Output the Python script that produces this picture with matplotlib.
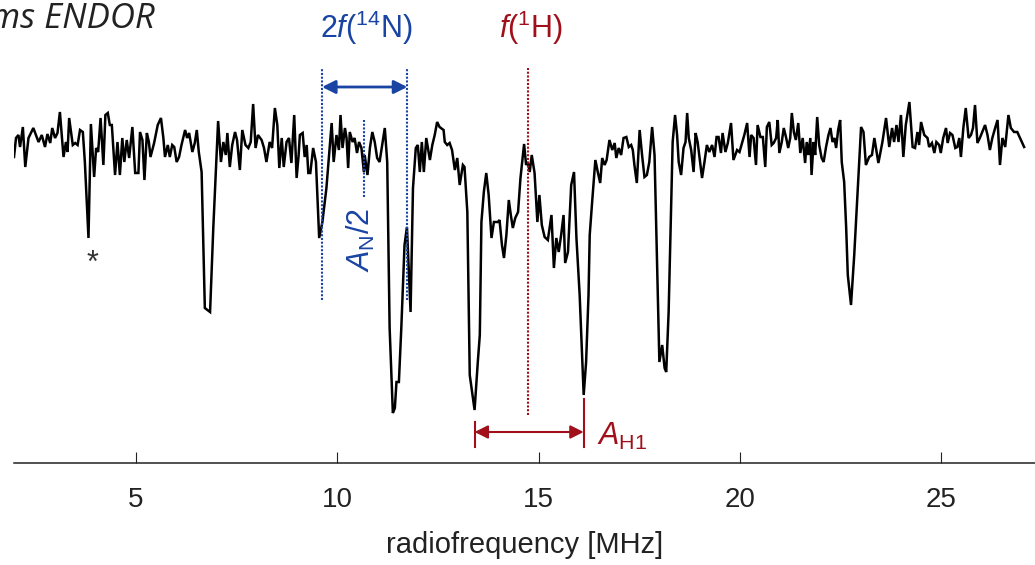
import matplotlib
matplotlib.use("Agg")
import matplotlib.pyplot as plt

# ---------------- data ----------------
freq = [
    # 2 - 5.5 MHz
    1.97, 2.02, 2.08, 2.12, 2.19, 2.25, 2.33, 2.45, 2.58, 2.66, 2.74, 2.80, 2.87, 2.92, 2.99, 3.05, 3.11, 3.20, 3.26, 3.30,
    3.34, 3.43, 3.49, 3.55, 3.61, 3.68, 3.73, 3.82, 3.88, 3.96, 4.01, 4.06, 4.12, 4.19, 4.24, 4.30, 4.35, 4.40, 4.48, 4.54,
    4.60, 4.66, 4.71, 4.77, 4.83, 4.91, 4.98, 5.06, 5.10, 5.16, 5.21, 5.27, 5.32, 5.36, 5.45,
    # 5.5 - 9 MHz
    5.54, 5.62, 5.68, 5.72, 5.79, 5.84, 5.90, 5.95, 6.01, 6.07, 6.13, 6.22, 6.27, 6.32, 6.40, 6.46, 6.51, 6.56, 6.63, 6.71,
    6.84, 6.92, 7.04, 7.11, 7.17, 7.23, 7.27, 7.33, 7.39, 7.46, 7.51, 7.58, 7.64, 7.72, 7.79, 7.85, 7.91, 7.97, 8.03, 8.12,
    8.18, 8.24, 8.32, 8.38, 8.45, 8.51, 8.56, 8.62, 8.67, 8.74, 8.80, 8.86, 8.93, 8.99, 9.04,
    # 9 - 12.6 MHz
    9.07, 9.14, 9.19, 9.24, 9.28, 9.33, 9.40, 9.47, 9.55, 9.63, 9.73, 9.86, 9.91, 9.98, 10.04, 10.08, 10.13, 10.19, 10.23, 10.27,
    10.31, 10.38, 10.43, 10.49, 10.54, 10.60, 10.66, 10.68, 10.75, 10.81, 10.87, 10.93, 10.99, 11.05, 11.14, 11.18, 11.24, 11.30, 11.38, 11.43,
    11.47, 11.53, 11.59, 11.67, 11.73, 11.82, 11.88, 11.95, 12.00, 12.05, 12.10, 12.15, 12.21, 12.30, 12.36, 12.42, 12.48, 12.54, 12.64,
    # 12.6 - 16.2 MHz
    12.67, 12.73, 12.79, 12.85, 12.92, 12.98, 13.04, 13.12, 13.16, 13.23, 13.29, 13.41, 13.49, 13.54, 13.58, 13.64, 13.70, 13.76, 13.83, 13.89,
    13.99, 14.03, 14.09, 14.14, 14.20, 14.26, 14.31, 14.36, 14.42, 14.49, 14.55, 14.64, 14.69, 14.73, 14.78, 14.83, 14.90, 14.97, 15.02, 15.08,
    15.15, 15.23, 15.32, 15.38, 15.44, 15.50, 15.56, 15.62, 15.66, 15.73, 15.81, 15.88, 15.94, 16.02, 16.12, 16.18, 16.24,
    # 16.2 - 19.9 MHz
    16.27, 16.33, 16.41, 16.47, 16.53, 16.58, 16.64, 16.69, 16.76, 16.83, 16.89, 16.93, 16.99, 17.05, 17.11, 17.18, 17.24, 17.30, 17.34, 17.38,
    17.44, 17.51, 17.57, 17.63, 17.69, 17.75, 17.82, 17.88, 17.96, 18.00, 18.07, 18.13, 18.17, 18.23, 18.29, 18.33, 18.39, 18.44, 18.48, 18.54,
    18.60, 18.65, 18.69, 18.73, 18.79, 18.85, 18.90, 18.95, 19.01, 19.06, 19.12, 19.18, 19.24, 19.31, 19.37, 19.42, 19.47, 19.53, 19.57, 19.64,
    19.70, 19.78, 19.84,
    # 19.9 - 23.5 MHz
    19.93, 19.99, 20.04, 20.11, 20.18, 20.24, 20.28, 20.34, 20.40, 20.44, 20.51, 20.57, 20.63, 20.67, 20.73, 20.79, 20.84, 20.90, 20.94, 20.98,
    21.04, 21.09, 21.15, 21.20, 21.25, 21.29, 21.34, 21.39, 21.45, 21.50, 21.56, 21.62, 21.66, 21.70, 21.75, 21.78, 21.83, 21.87, 21.92, 21.97,
    22.03, 22.08, 22.14, 22.20, 22.25, 22.30, 22.35, 22.39, 22.44, 22.49, 22.53, 22.59, 22.64, 22.68, 22.76, 22.84, 22.92, 23.01, 23.07, 23.13,
    23.21, 23.28, 23.34, 23.44,
    # 23.5 - 27 MHz
    23.54, 23.63, 23.71, 23.78, 23.83, 23.89, 23.94, 24.00, 24.06, 24.12, 24.21, 24.29, 24.35, 24.41, 24.45, 24.50, 24.58, 24.66, 24.70, 24.77,
    24.83, 24.88, 24.95, 24.99, 25.05, 25.12, 25.16, 25.22, 25.28, 25.35, 25.40, 25.45, 25.49, 25.55, 25.61, 25.68, 25.74, 25.79, 25.84, 25.90,
    25.96, 26.02, 26.09, 26.15, 26.21, 26.27, 26.34, 26.40, 26.46, 26.52, 26.59, 26.67, 26.73, 26.81, 26.89, 26.98, 27.06,
]

signal = [
    3.06, 3.25, 3.28, 3.16, 3.36, 2.96, 3.25, 3.35, 3.21, 3.28, 3.16, 3.29, 3.20, 3.35, 3.25, 3.30, 3.51, 3.06, 3.21, 3.11,
    3.45, 3.18, 3.20, 3.18, 3.33, 3.31, 3.01, 2.25, 3.39, 2.86, 3.15, 3.11, 3.45, 2.98, 3.48, 3.50, 3.38, 3.38, 2.88, 3.21,
    2.88, 3.25, 3.01, 3.23, 3.05, 3.36, 2.90, 2.90, 3.31, 3.23, 2.83, 3.30, 3.21, 3.06, 3.20,

    3.38, 3.45, 3.25, 3.06, 3.18, 3.06, 3.18, 3.16, 3.01, 3.06, 3.18, 3.33, 3.25, 3.30, 3.11, 3.20, 3.33, 3.11, 2.91, 1.55,
    1.51, 2.35, 3.42, 3.01, 3.21, 3.08, 3.30, 2.96, 3.18, 3.31, 3.23, 2.93, 3.33, 3.18, 3.15, 3.21, 3.59, 3.15, 3.28, 3.23,
    3.15, 3.01, 3.21, 3.15, 3.55, 3.38, 2.95, 3.25, 2.96, 3.21, 3.25, 3.00, 3.48, 2.85, 3.08,

    3.28, 3.30, 3.06, 3.18, 2.90, 2.90, 3.15, 3.01, 2.25, 2.41, 2.75, 3.40, 3.01, 3.28, 3.13, 3.48, 3.15, 3.35, 3.25, 2.95,
    3.31, 3.21, 3.25, 3.10, 3.21, 3.15, 2.91, 3.08, 2.88, 3.15, 3.31, 3.21, 3.05, 3.01, 3.25, 3.35, 3.01, 1.35, 0.50, 0.55,
    0.81, 0.81, 1.35, 2.18, 2.36, 1.51, 2.75, 3.15, 3.18, 2.91, 3.21, 2.91, 3.25, 3.03, 3.18, 3.28, 3.41, 3.36, 3.33,

    3.21, 3.18, 3.20, 3.13, 2.93, 3.05, 2.78, 2.98, 2.96, 2.51, 0.88, 0.53, 1.01, 1.28, 2.41, 2.71, 2.90, 2.68, 2.25, 2.41,
    2.41, 2.43, 2.18, 2.05, 2.28, 2.63, 2.48, 2.35, 2.45, 2.51, 2.85, 3.19, 2.98, 3.01, 2.91, 3.08, 2.90, 2.41, 2.68, 2.38,
    2.26, 2.23, 2.48, 1.95, 2.25, 2.11, 2.28, 2.48, 2.00, 2.11, 2.78, 2.91, 2.25, 1.68, 0.68, 1.01, 1.68,

    2.28, 2.61, 3.03, 2.91, 2.80, 3.05, 2.98, 3.03, 3.23, 3.13, 3.20, 3.05, 3.15, 3.08, 3.25, 3.26, 3.16, 3.18, 3.13, 2.98,
    2.80, 3.33, 3.08, 2.86, 2.88, 3.01, 3.36, 3.08, 1.68, 1.01, 1.18, 0.95, 0.91, 1.51, 2.51, 3.21, 3.48, 3.28, 3.01, 2.88,
    3.15, 3.21, 3.50, 3.25, 3.13, 2.91, 3.30, 3.21, 3.01, 2.85, 3.01, 3.18, 3.11, 3.18, 3.06, 3.26, 3.26, 3.10, 3.30, 3.11,
    3.20, 3.40, 3.03,

    3.13, 3.11, 3.18, 3.28, 3.40, 3.06, 3.28, 3.25, 2.98, 3.38, 3.26, 3.26, 2.96, 3.36, 3.41, 3.18, 3.20, 3.25, 3.43, 3.10,
    3.21, 3.35, 3.25, 3.15, 3.25, 3.50, 3.31, 3.23, 3.40, 3.10, 3.25, 3.00, 3.21, 3.08, 3.25, 2.88, 3.21, 3.08, 3.46, 3.18,
    3.05, 3.01, 3.16, 3.28, 3.35, 3.21, 3.25, 3.15, 3.33, 3.43, 3.01, 2.81, 2.35, 1.88, 1.58, 2.08, 2.68, 3.36, 3.31, 2.98,
    3.06, 3.08, 3.25, 3.00,

    3.21, 3.45, 3.16, 3.35, 3.21, 3.38, 3.21, 3.48, 3.06, 3.38, 3.61, 3.16, 3.15, 3.31, 3.18, 3.41, 3.28, 3.25, 3.16, 3.20,
    3.10, 3.21, 3.18, 3.10, 3.25, 3.35, 3.20, 3.30, 3.28, 3.15, 3.16, 3.25, 3.06, 3.35, 3.55, 3.25, 3.28, 3.35, 3.58, 3.20,
    3.25, 3.31, 3.38, 3.28, 3.13, 3.25, 3.35, 3.43, 2.98, 3.25, 3.16, 3.48, 3.35, 3.31, 3.31, 3.23, 3.16,
]

xticks = [5, 10, 15, 20, 25]
xtick_labels = ["5", "10", "15", "20", "25"]

# annotation positions (MHz)
f_N_low, f_N_high = 9.62, 11.74     # 2f(14N) markers
f_N_mid = 10.67                       # A_N/2 marker
f_H = 14.74                           # f(1H)
A_H_low, A_H_high = 13.41, 16.12      # A_H1 bracket

title_text = "Mims ENDOR"
xlabel_text = "radiofrequency [MHz]"

# ---------------- style ----------------
plt.rcParams["font.family"] = ["Liberation Sans", "DejaVu Sans"]
plt.rcParams["mathtext.fontset"] = "custom"
plt.rcParams["mathtext.rm"] = "Liberation Sans"
plt.rcParams["mathtext.it"] = "Liberation Sans:italic"
plt.rcParams["mathtext.bf"] = "Liberation Sans:bold"

blue = "#1a44a3"
red = "#a1101a"
dots = (0, (1.0, 0.8))

fig = plt.figure(figsize=(10.35, 5.65), dpi=100)
ax = fig.add_axes([14 / 1035, 102 / 565, 1021 / 1035, 463 / 565])

ax.plot(freq, signal, color="black", lw=1.8, solid_joinstyle="miter")

ax.set_xlim(1.97, 27.33)
ax.set_ylim(0, 4.63)
for s in ("top", "left", "right"):
    ax.spines[s].set_visible(False)
ax.spines["bottom"].set_linewidth(1.1)
ax.spines["bottom"].set_color("#222222")
ax.set_yticks([])
ax.set_xticks(xticks)
ax.set_xticklabels(xtick_labels)
ax.tick_params(axis="x", direction="in", length=8, width=0.8, colors="#222222",
               labelsize=20, pad=17)
ax.set_xlabel(xlabel_text, fontsize=21, color="#222222", labelpad=13)
ax.patch.set_alpha(0)

# 2f(14N) markers
for xv in (f_N_low, f_N_high):
    ax.plot([xv, xv], [1.63, 3.95], color=blue, lw=1.5, ls=dots)
ax.annotate("", xy=(f_N_low, 3.76), xytext=(f_N_high, 3.76),
            arrowprops=dict(arrowstyle="<|-|>", color=blue, lw=2.0,
                            mutation_scale=20, shrinkA=0, shrinkB=0))
ax.plot([f_N_mid, f_N_mid], [2.66, 3.43], color=blue, lw=1.5, ls=dots)
ax.text(10.58, 2.23, r"$\mathit{A}_{\mathrm{N}}/2$", rotation=90, color=blue,
        fontsize=22, ha="center", va="center")
ax.text(10.73, 4.35, r"$2\mathit{f}(^{14}\mathrm{N})$", color=blue,
        fontsize=22, ha="center", va="center")

# f(1H) marker
ax.plot([f_H, f_H], [0.48, 3.95], color=red, lw=1.5, ls=dots)
ax.text(14.80, 4.35, r"$\mathit{f}(^{1}\mathrm{H})$", color=red,
        fontsize=22, ha="center", va="center")

# A_H1 bracket
ax.plot([A_H_low, A_H_low], [0.16, 0.41], color=red, lw=1.5)
ax.plot([A_H_high, A_H_high], [0.16, 0.64], color=red, lw=1.5)
ax.annotate("", xy=(A_H_low, 0.31), xytext=(A_H_high, 0.31),
            arrowprops=dict(arrowstyle="<|-|>", color=red, lw=1.5,
                            mutation_scale=20, shrinkA=0, shrinkB=0))
ax.text(16.44, 0.27, r"$\mathit{A}_{\mathrm{H1}}$", color=red,
        fontsize=22, ha="left", va="center")

# asterisk (artefact)
ax.text(3.91, 1.99, "*", fontsize=22, ha="center", va="center", color="#333333")

# title (cut off at the left edge, as in the reference)
fig.text(155 / 1035, 1 - 28 / 565, title_text, fontfamily="Open Sans",
         style="italic", fontsize=25, ha="right", va="baseline", color="#222222")

fig.savefig("out.png", dpi=100)
